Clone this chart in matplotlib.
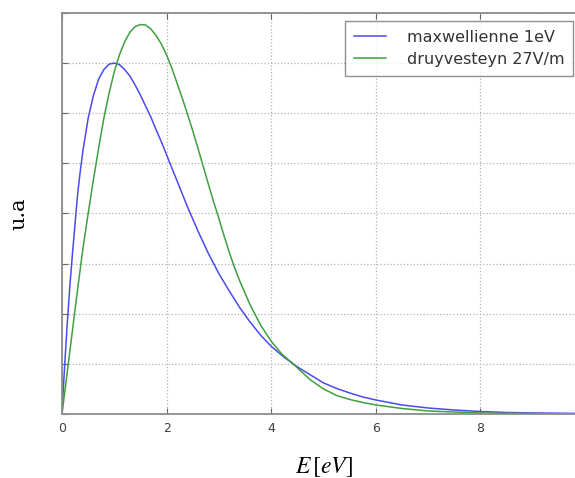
import matplotlib
matplotlib.use('Agg')
import matplotlib.pyplot as plt

# values (energy in eV, arbitrary units)
e_maxw = [0.0, 0.025, 0.05, 0.1, 0.15, 0.2, 0.25, 0.3, 0.35, 0.4, 0.5, 0.6,
          0.7, 0.8, 0.9, 1.0, 1.1, 1.2, 1.3, 1.4, 1.5, 1.6, 1.7, 1.8, 1.9,
          2.0, 2.2, 2.4, 2.6, 2.8, 3.0, 3.2, 3.4, 3.6, 3.8, 4.0, 4.25, 4.5,
          4.75, 5.0, 5.25, 5.5, 5.75, 6.0, 6.5, 7.0, 7.5, 8.0, 8.5, 9.0, 10.0]
f_maxw = [0.0, 0.05, 0.095, 0.18, 0.255, 0.32, 0.38, 0.44, 0.485, 0.525,
          0.59, 0.635, 0.668, 0.687, 0.698, 0.70, 0.697, 0.687, 0.674, 0.656,
          0.636, 0.614, 0.592, 0.567, 0.543, 0.517, 0.465, 0.413, 0.365,
          0.32, 0.28, 0.245, 0.212, 0.183, 0.157, 0.135, 0.113, 0.094, 0.078,
          0.062, 0.051, 0.042, 0.034, 0.028, 0.018, 0.012, 0.008, 0.005,
          0.003, 0.002, 0.001]

e_druy = [0.0, 0.1, 0.2, 0.3, 0.4, 0.5, 0.6, 0.7, 0.8, 0.9, 1.0, 1.1, 1.2,
          1.3, 1.4, 1.5, 1.6, 1.7, 1.8, 1.9, 2.0, 2.1, 2.2, 2.3, 2.4, 2.5,
          2.6, 2.7, 2.8, 2.9, 3.0, 3.1, 3.2, 3.3, 3.4, 3.6, 3.8, 4.0, 4.2,
          4.45, 4.75, 5.0, 5.25, 5.5, 5.75, 6.0, 6.5, 7.0, 7.5, 8.0, 9.0, 10.0]
f_druy = [0.0, 0.083, 0.167, 0.25, 0.33, 0.40, 0.467, 0.53, 0.59, 0.64,
          0.683, 0.717, 0.743, 0.762, 0.773, 0.777, 0.776, 0.768, 0.755,
          0.738, 0.716, 0.69, 0.66, 0.63, 0.598, 0.565, 0.53, 0.494, 0.458,
          0.423, 0.39, 0.355, 0.322, 0.292, 0.265, 0.217, 0.177, 0.145, 0.12,
          0.097, 0.068, 0.05, 0.037, 0.029, 0.023, 0.018, 0.011, 0.006,
          0.004, 0.002, 0.001, 0.0]

labels = ['maxwellienne 1eV', 'druyvesteyn 27V/m']
xticks = [0, 2, 4, 6, 8]

plt.rcParams['mathtext.fontset'] = 'stix'

fig = plt.figure(figsize=(5.75, 4.78), dpi=100)
# the axes run a little past the right edge of the picture
ax = fig.add_axes([62 / 575, 64 / 478, 523 / 575, 401 / 478])

ax.plot(e_maxw, f_maxw, color='#4a4af0', lw=1.1, label=labels[0])
ax.plot(e_druy, f_druy, color='#3f9f3f', lw=1.1, label=labels[1])

ax.set_xlim(0, 10)
ax.set_ylim(0, 0.8)
ax.set_xticks(xticks)
ax.set_yticks([i * 0.1 for i in range(9)])
ax.set_yticklabels([])
ax.tick_params(direction='in', top=True, right=True, length=4,
               color='0.4', labelsize=9, labelcolor='0.25', pad=6)
ax.grid(True, linestyle=':', color='0.7', lw=0.9)
for sp in ax.spines.values():
    sp.set_color('0.55')
    sp.set_linewidth(1.3)

ax.set_ylabel('u.a', family='DejaVu Serif', fontsize=15, labelpad=18)
ax.set_xlabel(r'$E\,[eV]$', fontsize=17, labelpad=14)

leg = ax.legend(loc='upper right', bbox_to_anchor=(573 / 575, 1 - 21 / 478),
                bbox_transform=fig.transFigure, borderaxespad=0,
                fancybox=False, fontsize=11.5, handlelength=2.0,
                handletextpad=1.3, borderpad=0.55, labelspacing=0.45)
leg.get_frame().set_edgecolor('0.45')
leg.get_frame().set_linewidth(1.0)
for t in leg.get_texts():
    t.set_color('0.2')

fig.savefig('out.png', dpi=100)
